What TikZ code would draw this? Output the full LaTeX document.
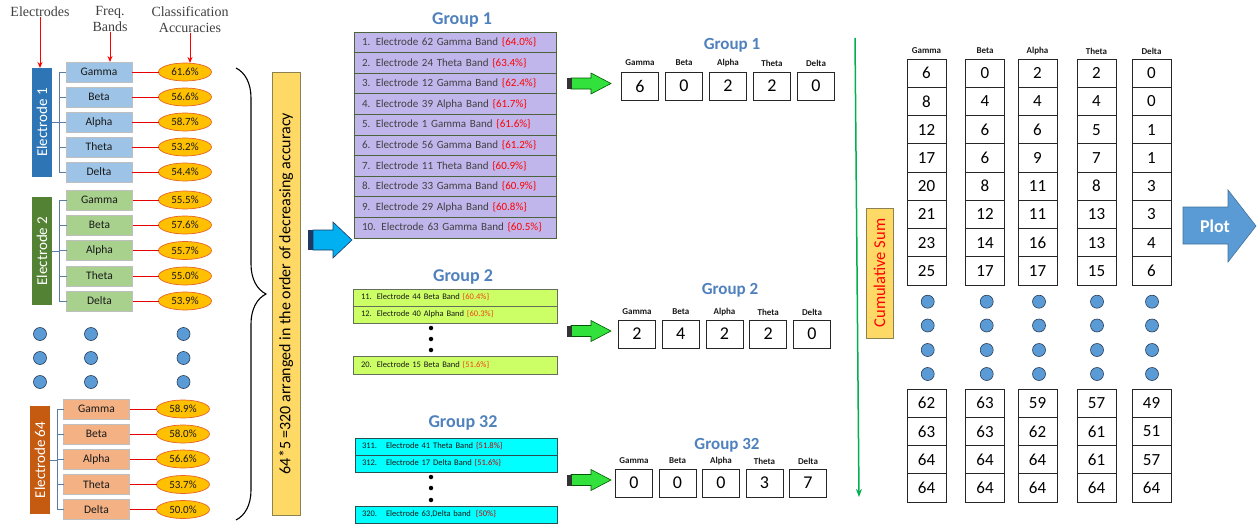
\documentclass[tikz,border=0pt]{standalone}
\usepackage{fontspec}
\setmainfont{Carlito}
\newfontfamily\hdrfont{Liberation Serif}
\usetikzlibrary{decorations.pathreplacing,arrows.meta,shapes.geometric}
\definecolor{e1c}{RGB}{46,117,182}
\definecolor{e1b}{RGB}{157,195,230}
\definecolor{e2c}{RGB}{84,130,53}
\definecolor{e2b}{RGB}{169,209,142}
\definecolor{e3c}{RGB}{197,90,17}
\definecolor{e3b}{RGB}{244,177,131}
\definecolor{accY}{RGB}{255,192,0}
\definecolor{accB}{RGB}{230,100,40}
\definecolor{brkC}{RGB}{90,125,165}
\definecolor{dotF}{RGB}{91,155,213}
\definecolor{dotB}{RGB}{40,60,90}
\definecolor{yelF}{RGB}{255,217,102}
\definecolor{yelB}{RGB}{140,130,80}
\definecolor{lav}{RGB}{192,182,236}
\definecolor{lavB}{RGB}{75,100,60}
\definecolor{lime}{RGB}{204,255,102}
\definecolor{limeB}{RGB}{100,110,90}
\definecolor{cyanF}{RGB}{0,255,255}
\definecolor{cyanB}{RGB}{40,80,80}
\definecolor{titleB}{RGB}{79,129,189}
\definecolor{txtG}{RGB}{64,64,64}
\definecolor{pctR}{RGB}{255,0,0}
\definecolor{pctO}{RGB}{240,70,20}
\definecolor{arrB}{RGB}{0,176,240}
\definecolor{arrBd}{RGB}{31,56,100}
\definecolor{arrG}{RGB}{50,225,60}
\definecolor{plotF}{RGB}{91,155,213}
\definecolor{plotB}{RGB}{65,113,156}
\definecolor{lineG}{RGB}{0,176,80}
\tikzset{
 elec/.style={fill=#1, minimum width=20pt, text=white, font=\fontsize{15}{15}\selectfont},
 band/.style={fill=#1, draw=black!25, line width=0.6pt, minimum width=66pt, minimum height=20pt, font=\fontsize{11.5}{12}\selectfont, text=black!90},
 acc/.style={ellipse, fill=accY, draw=accB, line width=0.7pt, minimum width=53pt, minimum height=18pt, font=\fontsize{11}{12}\selectfont, text=black!90},
 brk/.style={draw=brkC, line width=0.9pt},
 redln/.style={draw=red!90!black, line width=0.8pt},
 bigdot/.style={circle, fill=dotF, draw=dotB, line width=0.6pt, minimum size=13pt},
 smalldot/.style={circle, fill=black, minimum size=4.5pt},
 hdr/.style={font=\hdrfont\fontsize{14}{16}\selectfont, text=black!75, align=center},
 redarrow/.style={draw=red, line width=1pt, -{Stealth[length=6pt,width=5pt]}},
 ybox/.style={fill=yelF, draw=yelB, line width=0.6pt},
 gtitle/.style={font=\bfseries\fontsize{18}{18}\selectfont, text=titleB},
 g1row/.style={fill=lav, draw=lavB, line width=0.9pt, minimum width=202pt, minimum height=20.6pt, text width=186pt, inner xsep=8pt, align=left, font=\fontsize{11}{12}\selectfont, text=txtG},
 g2row/.style={fill=lime, draw=limeB, line width=0.8pt, minimum width=204pt, minimum height=17pt, text width=188pt, inner xsep=8pt, align=left, font=\fontsize{8.5}{9}\selectfont, text=black!90},
 g32row/.style={fill=cyanF, draw=cyanB, line width=0.8pt, minimum width=202pt, minimum height=17pt, text width=188pt, inner xsep=7pt, align=left, font=\fontsize{8.5}{9}\selectfont, text=black!90},
 cnt/.style={draw=black!85, fill=white, line width=0.8pt, minimum width=37pt, minimum height=28pt, font=\fontsize{18}{18}\selectfont},
 lbl/.style={font=\bfseries\fontsize{9}{9}\selectfont, text=black!90},
 cum/.style={draw=black!85, line width=0.8pt, minimum width=39pt, minimum height=28.25pt, font=\fontsize{17}{17}\selectfont},
 garrow/.style={fill=arrG, draw=green!35!black, line width=0.6pt}
}
\begin{document}
\begin{tikzpicture}[x=1pt,y=-1pt, every node/.style={inner sep=0pt, outer sep=0pt}]
\useasboundingbox (0,0) rectangle (1257,527);

% ---------- headers ----------
\node[hdr] (hE) at (40,12) {Electrodes};
\node[hdr] (hF) at (110,19) {Freq.\\Bands};
\node[hdr] (hC) at (190,20) {Classification\\Accuracies};

% ---------- Electrode 1 ----------
\node[elec=e1c, minimum height=109pt] (e1) at (42,122.5) {\rotatebox{90}{Electrode 1}};
\foreach \b/\y/\v [count=\k] in {Gamma/72/61.6,Beta/97/56.6,Alpha/122/58.7,Theta/147/53.2,Delta/172/54.4}{
  \node[band=e1b] (e1b\k) at (99,\y) {\b};
  \node[acc] (e1a\k) at (185,\y) {\v\%};
  \draw[redln] (e1b\k.east) -- (e1a\k.west);
  \draw[brk] (e1b\k.west) -- ++(-7,0) |- (e1.east);
}
% ---------- Electrode 2 ----------
\node[elec=e2c, minimum height=108pt] (e2) at (42,251) {\rotatebox{90}{Electrode 2}};
\foreach \b/\y/\v [count=\k] in {Gamma/200/55.5,Beta/225/57.6,Alpha/250.5/55.7,Theta/276/55.0,Delta/301/53.9}{
  \node[band=e2b] (e2b\k) at (99.5,\y) {\b};
  \node[acc] (e2a\k) at (185,\y) {\v\%};
  \draw[redln] (e2b\k.east) -- (e2a\k.west);
  \draw[brk] (e2b\k.west) -- ++(-7,0) |- (e2.east);
}
% ---------- Electrode 64 ----------
\node[elec=e3c, minimum height=108pt] (e3) at (40,460) {\rotatebox{90}{Electrode 64}};
\foreach \b/\y/\v [count=\k] in {Gamma/409/58.9,Beta/434/58.0,Alpha/459/56.6,Theta/484.5/53.7,Delta/509.5/50.0}{
  \node[band=e3b] (e3b\k) at (96.5,\y) {\b};
  \node[acc] (e3a\k) at (183,\y) {\v\%};
  \draw[redln] (e3b\k.east) -- (e3a\k.west);
  \draw[brk] (e3b\k.west) -- ++(-6.5,0) |- (e3.east);
}
% ---------- header arrows ----------
\draw[redarrow] (hE.south) -- (hE.south |- e1.north);
\draw[redarrow] (hF.south) -- (hF.south |- e1b1.north);
\draw[redarrow] (hC.south) -- (hC.south |- e1a1.north);

% ---------- left dots ----------
\foreach \y [count=\k] in {334,358,382}{
  \node[bigdot] (ld1\k) at (40,\y) {};
  \node[bigdot] (ld2\k) at (91,\y) {};
  \node[bigdot] (ld3\k) at (183.5,\y) {};
}

% ---------- brace ----------
\coordinate (brT) at (236,68);
\coordinate (brB) at (236,520);
\draw[line width=1.1pt, decorate, decoration={brace, amplitude=30pt, aspect=0.5}] (brT) -- (brB);

% ---------- yellow label ----------
\node[ybox, minimum width=28pt, minimum height=443pt] (yb) at (286,293.5)
  {\rotatebox{90}{\fontsize{16}{16}\selectfont 64*5 =320 arranged in the order of decreasing accuracy}};

% ---------- blue arrow ----------
\filldraw[fill=arrB, draw=arrBd, line width=0.6pt] (313,230) -- (333,230) -- (333,222) -- (352,240) -- (333,258) -- (333,250) -- (313,250) -- cycle;
\fill[arrBd] (308,230) rectangle (313,250);

% ---------- Group 1 list ----------
\node[gtitle] (g1t) at (462,20) {Group 1};
\foreach \t/\p [count=\k] in {Electrode 62 Gamma Band/64.0, Electrode 24 Theta Band/63.4, Electrode 12 Gamma Band/62.4, Electrode 39 Alpha Band/61.7, Electrode 1 Gamma Band/61.6, Electrode 56 Gamma Band/61.2, Electrode 11 Theta Band/60.9, Electrode 33 Gamma Band/60.9, Electrode 29 Alpha Band/60.8, Electrode 63 Gamma Band/60.5}{
  \node[g1row] (g1r\k) at (455,{42.3+20.6*(\k-1)}) {\mbox{\k. \t\ \textcolor{pctR}{\{\p\%\}}}};
}

% ---------- Group 2 list ----------
\node[gtitle] (g2t) at (463,277) {Group 2};
\node[g2row] (g2r1) at (455,297.5) {11.\hspace{5pt}Electrode 44 Beta Band \textcolor{pctO}{\{60.4\%\}}};
\node[g2row] (g2r2) at (455,314.5) {12.\hspace{5pt}Electrode 40 Alpha Band \textcolor{pctO}{\{60.3\%\}}};
\foreach \y [count=\k] in {328,339,350}{ \node[smalldot] (g2d\k) at (431,\y) {}; }
\node[g2row, minimum height=18pt] (g2r3) at (455,365) {20.\hspace{5pt}Electrode 15 Beta Band \textcolor{pctO}{\{51.6\%\}}};

% ---------- Group 32 list ----------
\node[gtitle] (g3t) at (463,423) {Group 32};
\node[g32row] (g3r1) at (456,446.5) {311.\hspace{9pt}Electrode 41 Theta Band \textcolor{pctR!80!black}{\{51.8\%\}}};
\node[g32row] (g3r2) at (456,463.5) {312.\hspace{9pt}Electrode 17 Delta Band \textcolor{pctR!80!black}{\{51.6\%\}}};
\foreach \y [count=\k] in {477,488,500}{ \node[smalldot] (g3d\k) at (431,\y) {}; }
\node[g32row] (g3r3) at (456,514.5) {320.\hspace{9pt}Electrode 63,Delta band\hspace{5pt}\textcolor{pctR!80!black}{\{50\%\}}};

% ---------- green arrows ----------
\foreach \c in {83.5,331,480}{
  \filldraw[garrow] (571,{\c-5.5}) -- (591,{\c-5.5}) -- (591,{\c-10.5}) -- (611,\c) -- (591,{\c+10.5}) -- (591,{\c+5.5}) -- (571,{\c+5.5}) -- cycle;
  \fill[black!80] (567,{\c-5.5}) rectangle (571.5,{\c+5.5});
}

% ---------- Group counts ----------
\node[gtitle, font=\bfseries\fontsize{17}{17}\selectfont] (k1t) at (732,45) {Group 1};
\foreach \l/\v [count=\i] in {Gamma/6,Beta/0,Alpha/2,Theta/2,Delta/0}{
  \node[cnt] (k1\i) at ({640+44*(\i-1)},86) {\v};
  \node[lbl] (kl1\i) at ({640+44*(\i-1)},63) {\l};
}
\node[gtitle, font=\bfseries\fontsize{17}{17}\selectfont] (k2t) at (730,290) {Group 2};
\foreach \l/\v [count=\i] in {Gamma/2,Beta/4,Alpha/2,Theta/2,Delta/0}{
  \node[cnt] (k2\i) at ({637+43.75*(\i-1)},334) {\v};
  \node[lbl] (kl2\i) at ({637+43.75*(\i-1)},312) {\l};
}
\node[gtitle, font=\bfseries\fontsize{17}{17}\selectfont] (k3t) at (727,445) {Group 32};
\foreach \l/\v [count=\i] in {Gamma/0,Beta/0,Alpha/0,Theta/3,Delta/7}{
  \node[cnt] (k3\i) at ({634+43.5*(\i-1)},483) {\v};
  \node[lbl] (kl3\i) at ({634+43.5*(\i-1)},461) {\l};
}

% ---------- cumulative line ----------
\coordinate (gs) at (855,38);
\coordinate (ge) at (859,497);
\draw[draw=lineG, line width=1.5pt, -{Stealth[length=8pt,width=6pt]}] (gs) -- (ge);
\node[ybox, minimum width=27pt, minimum height=130pt, text=red] (cs) at (879.5,273)
  {\rotatebox{90}{\fontsize{16.5}{16.5}\selectfont Cumulative Sum}};

% ---------- cumulative table ----------
\foreach \h/\cx/\dx/\tv/\bv [count=\c] in {
  Gamma/926.5/927.7/{6,8,12,17,20,21,23,25}/{62,63,64,64},
  Beta/985/986.7/{0,4,6,6,8,12,14,17}/{63,63,64,64},
  Alpha/1037.5/1039/{2,4,6,9,11,11,16,17}/{59,62,64,64},
  Theta/1096.5/1097/{2,4,5,7,8,13,13,15}/{57,61,61,64},
  Delta/1151.5/1152/{0,0,1,1,3,3,4,6}/{49,51,57,64}}{
  \node[lbl] (ch\c) at (\cx,51) {\h};
  \foreach \v [count=\r] in \tv { \node[cum] (ct\c-\r) at (\cx,{59+28.25*(\r-0.5)}) {\v}; }
  \foreach \v [count=\r] in \bv { \node[cum] (cb\c-\r) at (\cx,{389+28.25*(\r-0.5)}) {\v}; }
  \foreach \y [count=\r] in {301.7,325.5,350,374} { \node[bigdot] (cd\c-\r) at (\dx,\y) {}; }
}

% ---------- Plot arrow ----------
\filldraw[fill=plotF, draw=plotB, line width=0.6pt] (1183,207) -- (1228,207) -- (1228,190) -- (1256,226) -- (1228,262) -- (1228,244) -- (1183,244) -- cycle;
\node[font=\bfseries\fontsize{18}{18}\selectfont, text=white] (plot) at (1215,226) {Plot};
\end{tikzpicture}
\end{document}
